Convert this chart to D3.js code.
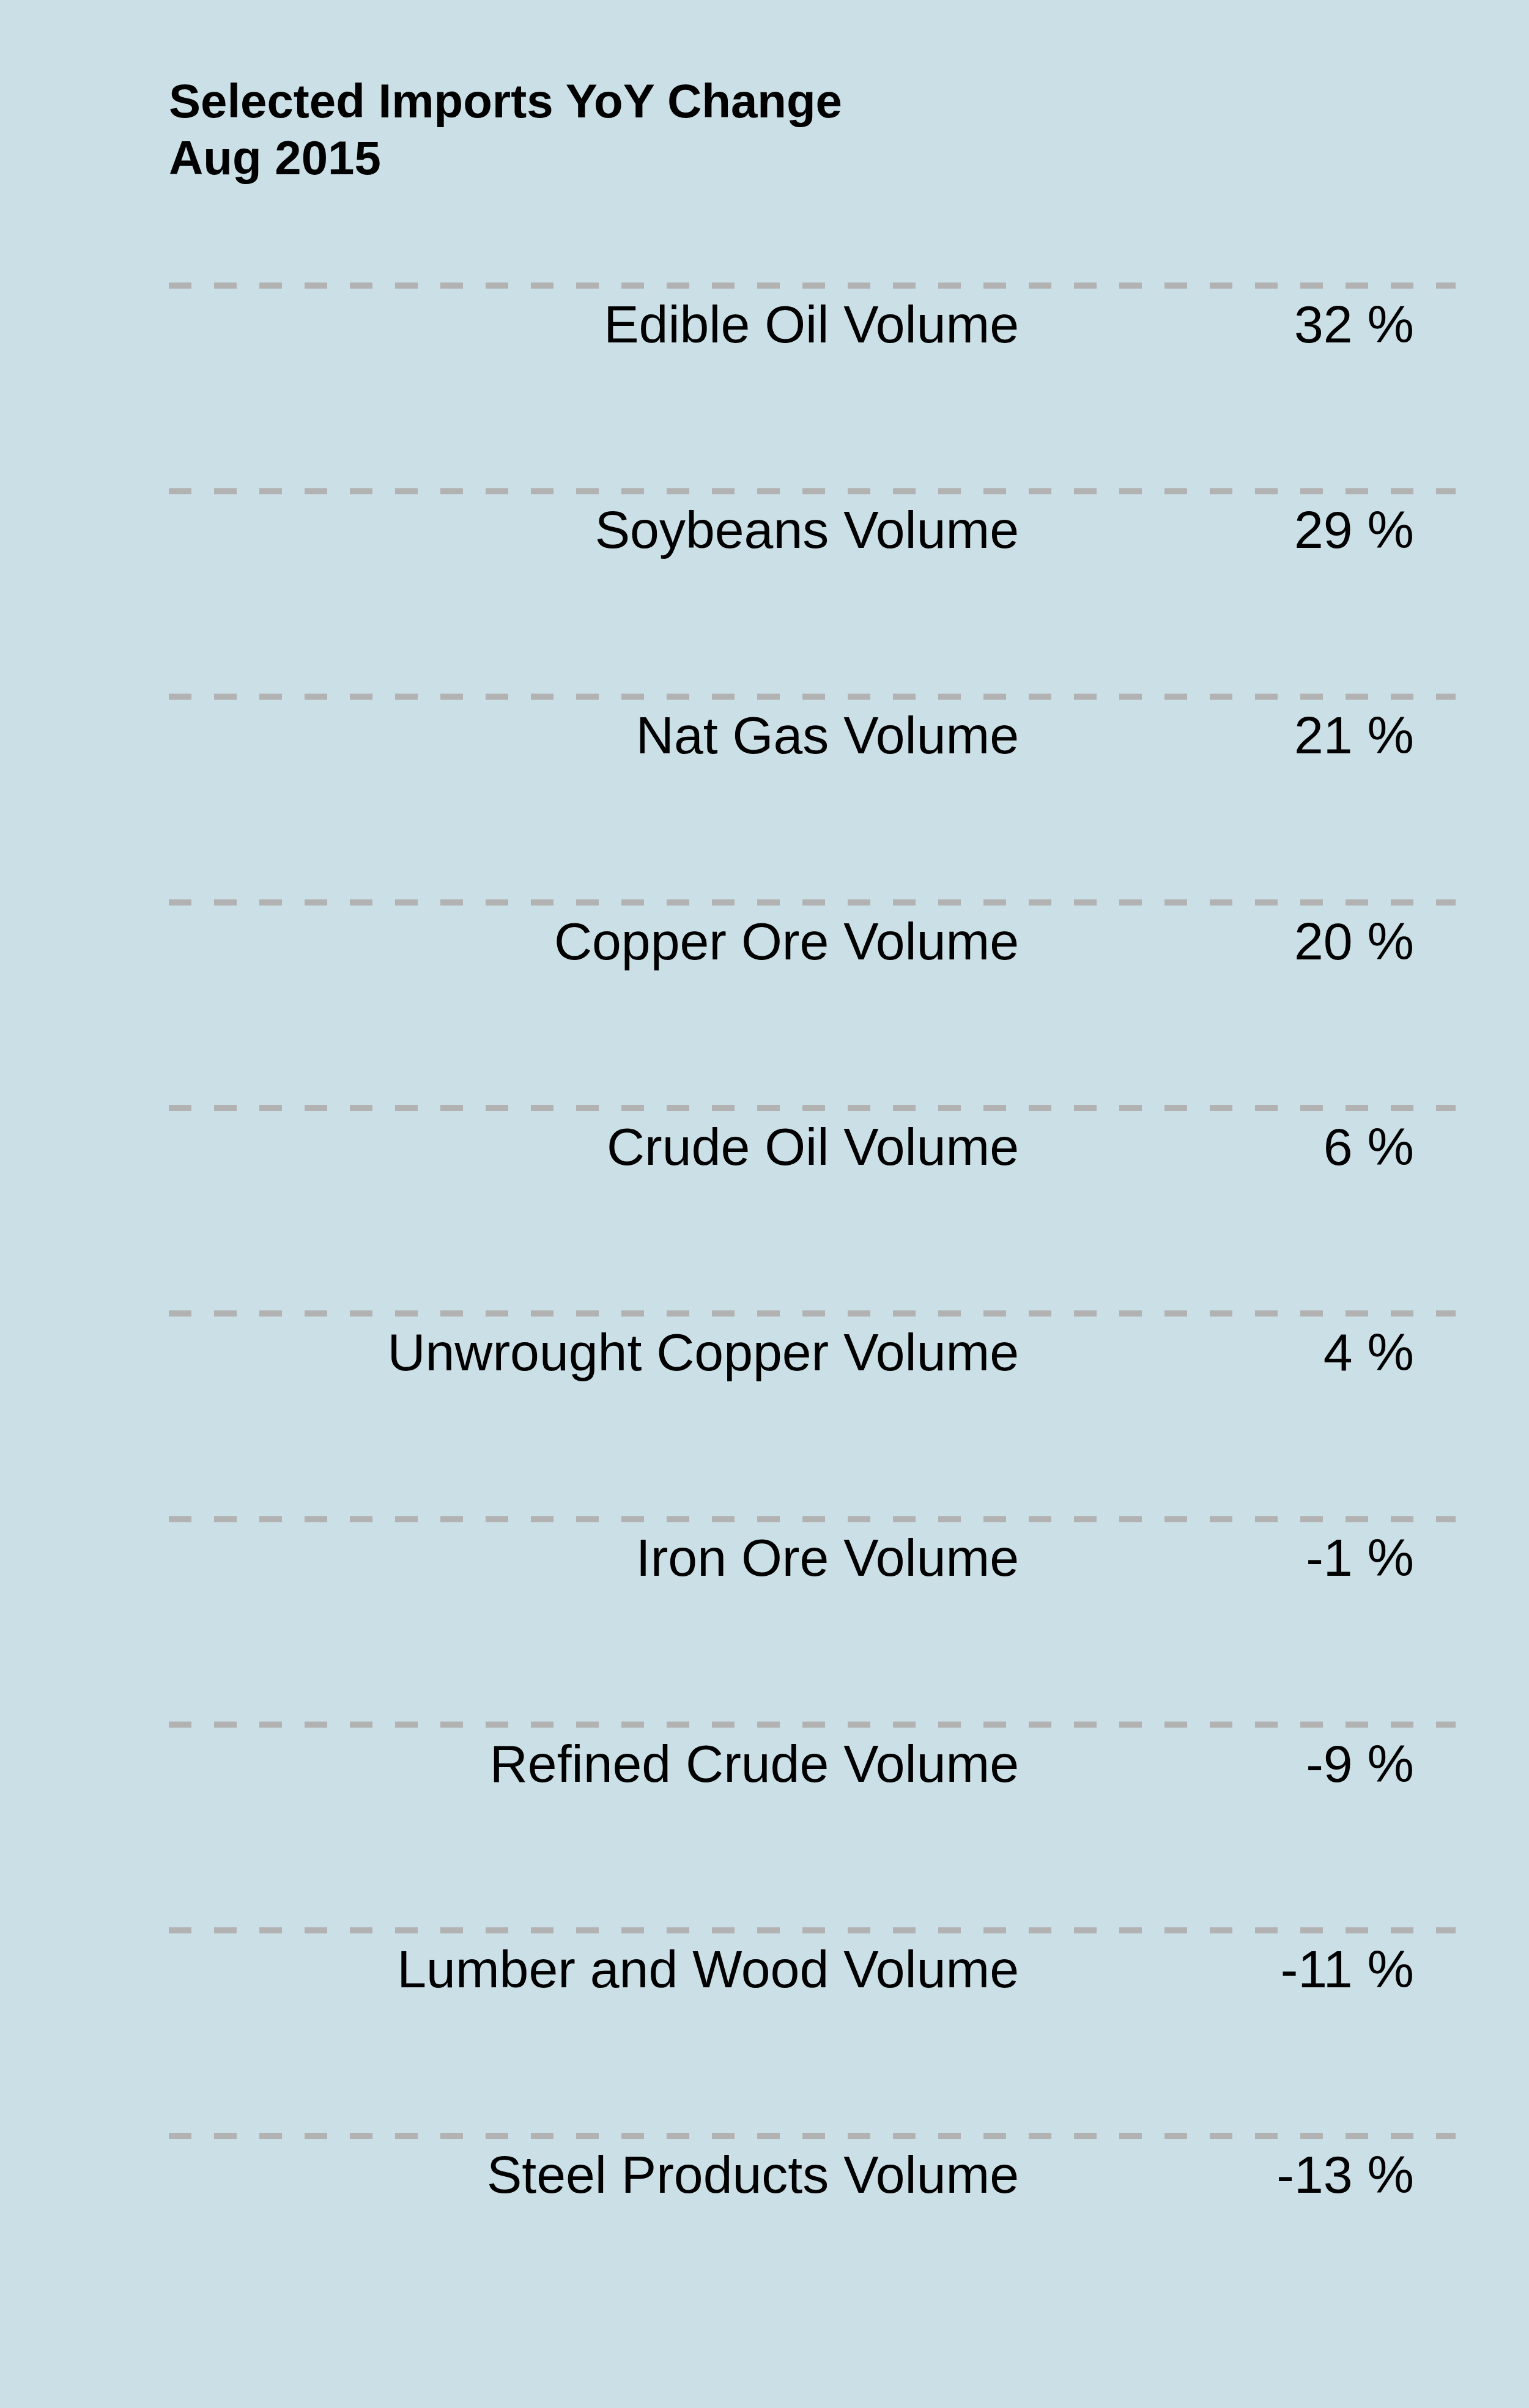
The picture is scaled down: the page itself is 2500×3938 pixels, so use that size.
<!DOCTYPE html>
<html>
<head>
<meta charset="utf-8">
<script src="https://cdn.jsdelivr.net/npm/d3@7"></script>
<style>
  html, body { margin: 0; padding: 0; background: #cbdfe6; }
  svg { display: block; }
</style>
</head>
<body>
<script>
const titleLines = ["Selected Imports YoY Change", "Aug 2015"];
const categories = [
  "Edible Oil Volume",
  "Soybeans Volume",
  "Nat Gas Volume",
  "Copper Ore Volume",
  "Crude Oil Volume",
  "Unwrought Copper Volume",
  "Iron Ore Volume",
  "Refined Crude Volume",
  "Lumber and Wood Volume",
  "Steel Products Volume"
];
const values = [32, 29, 21, 20, 6, 4, -1, -9, -11, -13];
const unit = " %";

const W = 2500, H = 3938;
const svg = d3.select("body").append("svg")
  .attr("width", W).attr("height", H)
  .style("font-family", "'Liberation Sans', Arial, Helvetica, sans-serif");

svg.append("rect").attr("width", W).attr("height", H).attr("fill", "#cbdfe6");

// title
svg.append("g").selectAll("text").data(titleLines).join("text")
  .attr("x", 276)
  .attr("y", (d, i) => 192 + i * 93)
  .attr("font-size", 78)
  .attr("font-weight", "bold")
  .attr("fill", "#000")
  .text(d => d);

const y = d3.scalePoint().domain(categories).range([467, 3493]);

const rows = svg.append("g").selectAll("g").data(categories).join("g")
  .attr("transform", d => `translate(0,${y(d)})`);

rows.append("line")
  .attr("x1", 276).attr("x2", 2380)
  .attr("y1", 0).attr("y2", 0)
  .attr("stroke", "#b2b2b2")
  .attr("stroke-width", 10)
  .attr("stroke-dasharray", "37,37");

rows.append("text")
  .attr("x", 1666).attr("y", 93)
  .attr("text-anchor", "end")
  .attr("font-size", 86)
  .attr("fill", "#000")
  .text(d => d);

rows.append("text")
  .attr("x", 2312).attr("y", 93)
  .attr("text-anchor", "end")
  .attr("font-size", 86)
  .attr("fill", "#000")
  .text((d, i) => values[i] + unit);
</script>
</body>
</html>
